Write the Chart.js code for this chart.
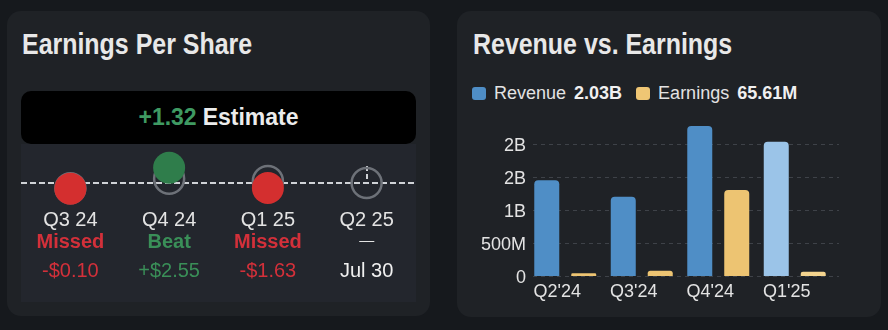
<!DOCTYPE html>
<html>
<head>
<meta charset="utf-8">
<script src="https://cdn.jsdelivr.net/npm/chart.js@4.4.0/dist/chart.umd.min.js"></script>
<style>
  body {
    margin: 0;
    width: 888px;
    height: 330px;
    background: #16191d;
    position: relative;
    overflow: hidden;
    font-family: "Liberation Sans", Arial, sans-serif;
  }
  .card { position: absolute; background: #1f2226; border-radius: 14px; }
  .title {
    position: absolute;
    font-family: "Liberation Sans", Arial, sans-serif;
    font-weight: bold;
    font-size: 29px;
    line-height: 30px;
    color: #e8e8e8;
    white-space: nowrap;
    transform: scaleX(0.86);
    transform-origin: 0 0;
  }
  #estBox {
    position: absolute;
    left: 21px; top: 91px; width: 395px; height: 53px;
    background: #000;
    border-radius: 10px;
    display: flex; align-items: center; justify-content: center;
    font-size: 23px; font-weight: bold; color: #ececec;
  }
  #estBox .num { color: #3f9a62; margin-right: 6px; }
  #epsWrap { position: absolute; left: 21px; top: 144px; width: 395px; height: 158px; background: #23262d; }
  #revWrap { position: absolute; left: 457px; top: 110px; width: 424px; height: 200px; }
  #legend {
    position: absolute; left: 472px; top: 83px; height: 20px;
    display: flex; align-items: center;
    font-size: 18px; line-height: 20px; color: #e3e3e3; white-space: nowrap;
  }
  #legend .sw { width: 14px; height: 13px; border-radius: 3px; display: inline-block; margin-right: 8px; }
  #legend b { margin-left: 8px; color: #f0f0f0; }
</style>
</head>
<body>
<div class="card" style="left:7px; top:11px; width:423px; height:305px;"></div>
<div class="card" style="left:457px; top:11px; width:424px; height:306px;"></div>

<div class="title" style="left:22px; top:29px;">Earnings Per Share</div>
<div id="estBox"><span class="num" id="estNum"></span><span>Estimate</span></div>
<div id="epsWrap"><canvas id="epsChart" width="395" height="158"></canvas></div>

<div class="title" style="left:473px; top:29px;">Revenue vs. Earnings</div>
<div id="legend">
  <span class="sw" style="background:#4f8ec6"></span><span>Revenue</span><b id="revLast"></b>
  <span class="sw" style="background:#efc674; margin-left:14px"></span><span>Earnings</span><b id="earnLast"></b>
</div>
<div id="revWrap"><canvas id="revChart" width="424" height="200"></canvas></div>

<script>
// EPS card
const epsQuarters = ["Q3 24", "Q4 24", "Q1 25", "Q2 25"];
const epsEstimate = [0.11, 2.32, 1.79, 1.32];
const epsActual = [0.01, 4.87, 0.16, null];
const nextReport = "Jul 30";

// Revenue vs earnings card
const quarters = ["Q2'24", "Q3'24", "Q4'24", "Q1'25"];
const revenue = [1.45e9, 1.20e9, 2.27e9, 2.03e9];
const earnings = [41e6, 80e6, 1.30e9, 65.61e6];
const yTicks = [0, 5e8, 1e9, 1.5e9, 2e9];
const yTickLabels = ["0", "500M", "1B", "2B", "2B"];

const RED = "#d3303a";
const GREEN = "#3a8f58";
const TEXT = "#e3e3e3";
const FONT = "'Liberation Sans', Arial, sans-serif";

const nextEstimate = epsEstimate[epsEstimate.length - 1];
document.getElementById("estNum").textContent = "+" + nextEstimate.toFixed(2);
document.getElementById("revLast").textContent = (revenue[revenue.length - 1] / 1e9).toFixed(2) + "B";
document.getElementById("earnLast").textContent = (earnings[earnings.length - 1] / 1e6).toFixed(2) + "M";

const surprise = epsActual.map((a, i) => (a === null ? null : a - epsEstimate[i]));

// dashed estimate line + crosshair on the upcoming quarter
const epsLine = {
    id: "epsLine",
    beforeDatasetsDraw(chart) {
        const { ctx, chartArea, scales: { x, y } } = chart;
        const py = Math.round(y.getPixelForValue(nextEstimate));
        ctx.save();
        ctx.strokeStyle = "#cfd2d6";
        ctx.lineWidth = 2;
        ctx.setLineDash([6, 3]);
        ctx.beginPath();
        ctx.moveTo(chartArea.left, py);
        ctx.lineTo(chartArea.right, py);
        ctx.stroke();
        epsActual.forEach((a, i) => {
            if (a !== null) return;
            const px = Math.round(x.getPixelForValue(i));
            const cy = y.getPixelForValue(epsEstimate[i]);
            ctx.setLineDash([5, 3]);
            ctx.beginPath();
            ctx.moveTo(px, cy - 17);
            ctx.lineTo(px, cy - 3);
            ctx.stroke();
        });
        ctx.restore();
    }
};

// quarter / result / surprise text under each dot
const epsLabels = {
    id: "epsLabels",
    afterDatasetsDraw(chart) {
        const { ctx, scales: { x } } = chart;
        ctx.save();
        ctx.textAlign = "center";
        ctx.textBaseline = "alphabetic";
        epsQuarters.forEach((q, i) => {
            const px = x.getPixelForValue(i);
            const s = surprise[i];
            const col = s === null ? TEXT : (s >= 0 ? GREEN : RED);
            ctx.font = "20px " + FONT;
            ctx.fillStyle = TEXT;
            ctx.fillText(q, px, 82);
            if (s === null) {
                ctx.font = "15px " + FONT;
                ctx.fillText("—", px, 101);
                ctx.font = "20px " + FONT;
                ctx.fillStyle = "#f0f0f0";
                ctx.fillText(nextReport, px, 133);
                return;
            }
            ctx.font = "bold 20px " + FONT;
            ctx.fillStyle = col;
            ctx.fillText(s >= 0 ? "Beat" : "Missed", px, 104);
            ctx.font = "20px " + FONT;
            ctx.fillText((s >= 0 ? "+$" : "-$") + Math.abs(s).toFixed(2), px, 133);
        });
        ctx.restore();
    }
};

new Chart(document.getElementById("epsChart"), {
    type: "line",
    data: {
        labels: epsQuarters,
        datasets: [
            {
                label: "Actual",
                data: epsActual,
                order: 0,
                showLine: false,
                clip: false,
                pointRadius: 16,
                pointHoverRadius: 16,
                pointBorderWidth: 0,
                pointBackgroundColor: surprise.map(s => (s === null ? "rgba(0,0,0,0)" : (s >= 0 ? "#2f7d4b" : "#d42f2f")))
            },
            {
                label: "Estimate",
                data: epsEstimate,
                order: 1,
                showLine: false,
                clip: false,
                pointRadius: 15,
                pointHoverRadius: 15,
                pointBorderWidth: 2.5,
                pointBorderColor: "#6d7178",
                pointBackgroundColor: "rgba(0,0,0,0)"
            }
        ]
    },
    options: {
        responsive: false,
        animation: false,
        events: [],
        layout: { autoPadding: false, padding: { top: 0, bottom: 100, left: 0, right: 0 } },
        plugins: { legend: { display: false }, tooltip: { enabled: false } },
        scales: {
            x: { display: false, offset: true },
            y: { display: false, min: -3.1, max: 10.4 }
        }
    },
    plugins: [epsLine, epsLabels]
});

// dashed horizontal grid, shifted a little right of the plot like the original
const dashedGrid = {
    id: "dashedGrid",
    beforeDatasetsDraw(chart) {
        const { ctx, chartArea, scales: { y } } = chart;
        ctx.save();
        ctx.strokeStyle = "#3e4248";
        ctx.lineWidth = 1;
        ctx.setLineDash([4, 4]);
        y.ticks.forEach(t => {
            const py = Math.round(y.getPixelForValue(t.value)) + 0.5;
            ctx.beginPath();
            ctx.moveTo(chartArea.left + 6, py);
            ctx.lineTo(chartArea.right + 6, py);
            ctx.stroke();
        });
        ctx.restore();
    }
};

const last = quarters.length - 1;

new Chart(document.getElementById("revChart"), {
    type: "bar",
    data: {
        labels: quarters,
        datasets: [
            {
                label: "Revenue",
                data: revenue,
                backgroundColor: revenue.map((v, i) => (i === last ? "#9bc4e8" : "#4f8ec6")),
                borderRadius: 4,
                borderSkipped: "start",
                categoryPercentage: 0.967,
                barPercentage: 0.676
            },
            {
                label: "Earnings",
                data: earnings,
                backgroundColor: earnings.map((v, i) => (i === last ? "#f4d48e" : "#edc472")),
                borderRadius: 4,
                borderSkipped: "start",
                categoryPercentage: 0.967,
                barPercentage: 0.676
            }
        ]
    },
    options: {
        responsive: false,
        animation: false,
        events: [],
        layout: { padding: { top: 14, right: 48, left: 0, bottom: 0 } },
        plugins: { legend: { display: false }, tooltip: { enabled: false } },
        scales: {
            x: {
                grid: { display: false, drawTicks: false },
                border: { display: false },
                ticks: {
                    color: TEXT,
                    font: { family: FONT, size: 18 },
                    padding: 5,
                    labelOffset: -8,
                    maxRotation: 0,
                    autoSkip: false
                },
                afterFit: s => { s.height = 34; }
            },
            y: {
                min: 0,
                max: 2.3e9,
                grid: { display: false, drawTicks: false },
                border: { display: false },
                afterBuildTicks: s => { s.ticks = yTicks.map(v => ({ value: v })); },
                ticks: {
                    color: TEXT,
                    font: { family: FONT, size: 18 },
                    padding: 1,
                    labelOffset: 2,
                    callback: (v, i) => yTickLabels[i]
                },
                afterFit: s => { s.width = 70; }
            }
        }
    },
    plugins: [dashedGrid]
});
</script>
</body>
</html>
